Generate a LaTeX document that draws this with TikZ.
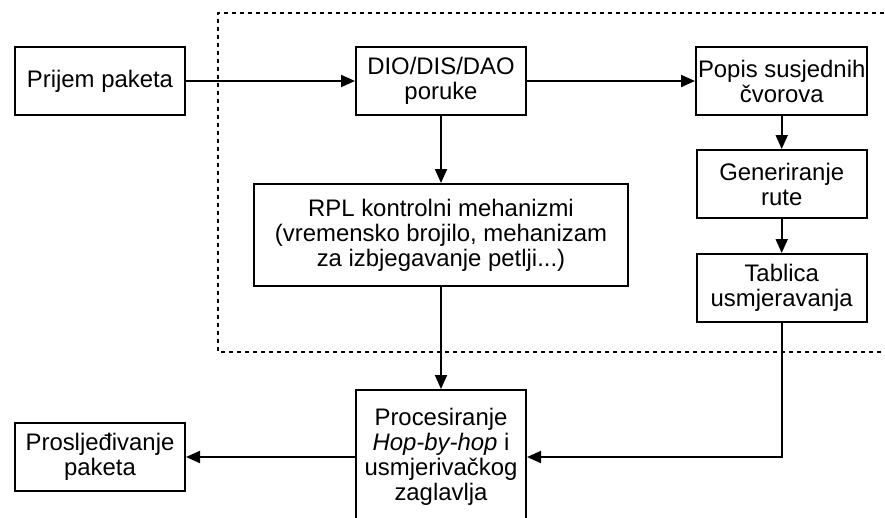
\documentclass[tikz,border=0pt]{standalone}
\usepackage{fontspec}
\setmainfont{Liberation Sans}
\usepackage{tikz}
\usetikzlibrary{positioning,arrows.meta}

\begin{document}
\begin{tikzpicture}[x=1pt,y=-1pt,font=\fontsize{23.9}{25}\selectfont,
  box/.style={draw,line width=2pt,align=center,inner xsep=2pt,minimum height=68pt,minimum width=170pt},
  arr/.style={line width=2pt,-{Triangle[length=14pt,width=12pt]}},
  frame/.style={line width=2pt,dash pattern=on 4pt off 4pt}]
\clip (0,0) rectangle (885,517);
\node[box] (prijem) at (100,81) {Prijem paketa};
\node[box,right=169pt of prijem] (dio) {DIO/DIS/DAO\\poruke};
\node[box,right=168pt of dio] (popis) {Popis susjednih\\čvorova};
\node[box,below=33pt of popis] (gen) {Generiranje\\rute};
\node[box,below=34pt of gen] (tab) {Tablica\\usmjeravanja};
\node[box,below=67pt of dio,minimum width=374pt,minimum height=102pt] (rpl) {RPL kontrolni mehanizmi\\(vremensko brojilo, mehanizam\\za izbjegavanje petlji...)};
\node[box,below=102pt of rpl,minimum height=134pt] (proc) {Procesiranje\\\textit{Hop-by-hop} i\\usmjerivačkog\\zaglavlja};
\node[box,left=169pt of proc] (pros) {Prosljeđivanje\\paketa};
% granica RPL modula
\draw[frame] (900,13) -- (218,13) -- (218,352) -- (900,352);
\draw[arr] (prijem)--(dio);
\draw[arr] (dio)--(popis);
\draw[arr] (popis)--(gen);
\draw[arr] (gen)--(tab);
\draw[arr] (dio)--(rpl);
\draw[arr] (rpl)--(proc);
\draw[arr] (tab.south) |- (proc.east);
\draw[arr] (proc)--(pros);
\end{tikzpicture}
\end{document}
